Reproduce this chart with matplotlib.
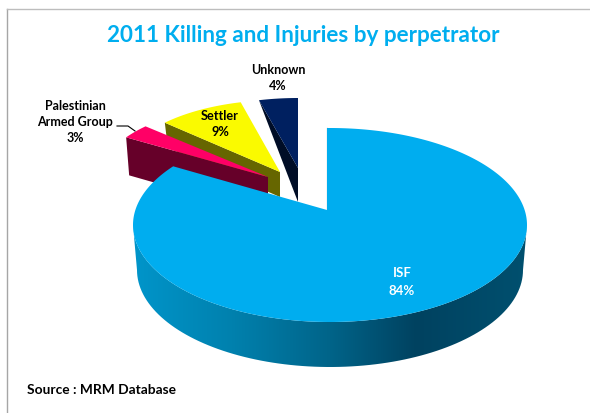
import numpy as np
import matplotlib
matplotlib.use('Agg')
import matplotlib.pyplot as plt
from matplotlib.patches import Polygon
from matplotlib.colors import LinearSegmentedColormap

# data
labels = ['ISF', 'Palestinian\nArmed Group', 'Settler', 'Unknown']
values = [84, 3, 9, 4]

plt.rcParams['font.family'] = ['Lato', 'DejaVu Sans']

top_colors = ['#00ADEF', '#FF0066', '#FAFA00', '#002060']
side_colors = [None, '#660029', '#666600', '#000D26']

fig = plt.figure(figsize=(5.9, 4.13), dpi=100)
ax = fig.add_axes([0, 0, 1, 1])

# slice angles, clockwise from 12 o'clock
ends = np.cumsum(values) / np.sum(values) * 360
starts = np.concatenate([[0], ends[:-1]])

# exploded small slices: apex, radii, depth (pixels)
apex = {1: (268, 177), 2: (280, 172), 3: (298, 168)}
radii = {1: (168, 74), 2: (158, 72), 3: (157, 70)}
depth = {1: 38, 2: 25, 3: 34}
# how far down the outer corner of the cut face goes
rim_depth = {1: 38, 2: 25, 3: 0}


def rim(cx, cy, a, b, t):
    t = np.radians(t)
    return np.column_stack([cx + a * np.sin(t), cy - b * np.cos(t)])


for i in [3, 2, 1]:
    ax_, ay_ = apex[i]
    a, b = radii[i]
    arc = rim(ax_, ay_, a, b, np.linspace(starts[i], ends[i], 40))
    # cut face, the one that looks at the viewer
    if i != 3:
        face = [arc[0], (ax_, ay_), (ax_, ay_ + depth[i]), (arc[0][0] + 3, arc[0][1] + rim_depth[i])]
    else:
        face = [arc[0], (ax_, ay_), (ax_, ay_ + depth[i])]
    ax.add_patch(Polygon(face, closed=True, fc=side_colors[i], ec='none', zorder=2 + (3 - i)))
    ax.add_patch(Polygon(np.vstack([[ax_, ay_], arc]), closed=True, fc=top_colors[i], ec='none', zorder=2.5 + (3 - i)))

# big slice
cx, cy, ra, rb = 330, 225, 197, 97
bot_cy, bot_a = 270, 193
isf_apex = (327, 210)
skew = 1.016  # perspective stretches the flat angle a bit

tt = np.linspace(90, 270, 100)
upper = rim(cx, cy, ra, rb, tt)
lower = rim(cx, bot_cy, bot_a, rb, tt)
side = Polygon(np.vstack([upper, lower[::-1]]), closed=True, fc='none', ec='none', zorder=6,
               transform=ax.transData)
ax.add_patch(side)

side_cmap = LinearSegmentedColormap.from_list('side', [
    (0.0, '#0095CA'), (0.25, '#0081AE'), (0.5, '#006489'), (0.72, '#004260'), (1.0, '#00506F')])
grad = np.linspace(0, 1, 256).reshape(1, -1)
im = ax.imshow(grad, extent=(133, 527, 367, 225), aspect='auto', cmap=side_cmap, zorder=6)
im.set_clip_path(side)

arc = rim(cx, cy, ra, rb, np.linspace(starts[0], ends[0] * skew, 300))
arc[0] = (327, 128)
ax.add_patch(Polygon(np.vstack([isf_apex, arc]), closed=True, fc=top_colors[0], ec='none', zorder=7))
ax.plot([327, 327], [128, 210], color='#005A7A', lw=0.8, zorder=6.5)

# frame
ax.plot([7, 7], [413, 9], color='#A6A6A6', lw=1, zorder=1)
ax.plot([7, 590], [9, 9], color='#BDBDBD', lw=1, zorder=1)

# texts
ax.text(303.5, 35, '2011 Killing and Injuries by perpetrator', color='#00AEEF', fontsize=16.2,
        fontweight='bold', ha='center', va='center', zorder=10)
ax.text(402, 282, f'{labels[0]}\n{values[0]}%', color='white', fontsize=9.5, fontweight='bold',
        ha='center', va='center', linespacing=1.55, zorder=10)
ax.text(75, 122, f'{labels[1]}\n{values[1]}%', color='black', fontsize=9, fontweight='bold',
        ha='center', va='center', linespacing=1.45, zorder=10)
ax.text(220, 124, f'{labels[2]}\n{values[2]}%', color='black', fontsize=9.2, fontweight='bold',
        ha='center', va='center', linespacing=1.4, zorder=10)
ax.text(278, 78, f'{labels[3]}\n{values[3]}%', color='black', fontsize=9, fontweight='bold',
        ha='center', va='center', linespacing=1.4, zorder=10)
ax.plot([117, 128, 135], [126, 126, 131], color='black', lw=0.8, zorder=10)
ax.text(27, 390, 'Source : MRM Database', color='black', fontsize=9.9, fontweight='bold',
        ha='left', va='center', zorder=10)

ax.set_xlim(0, 590)
ax.set_ylim(413, 0)
ax.axis('off')
fig.savefig('out.png', dpi=100)
